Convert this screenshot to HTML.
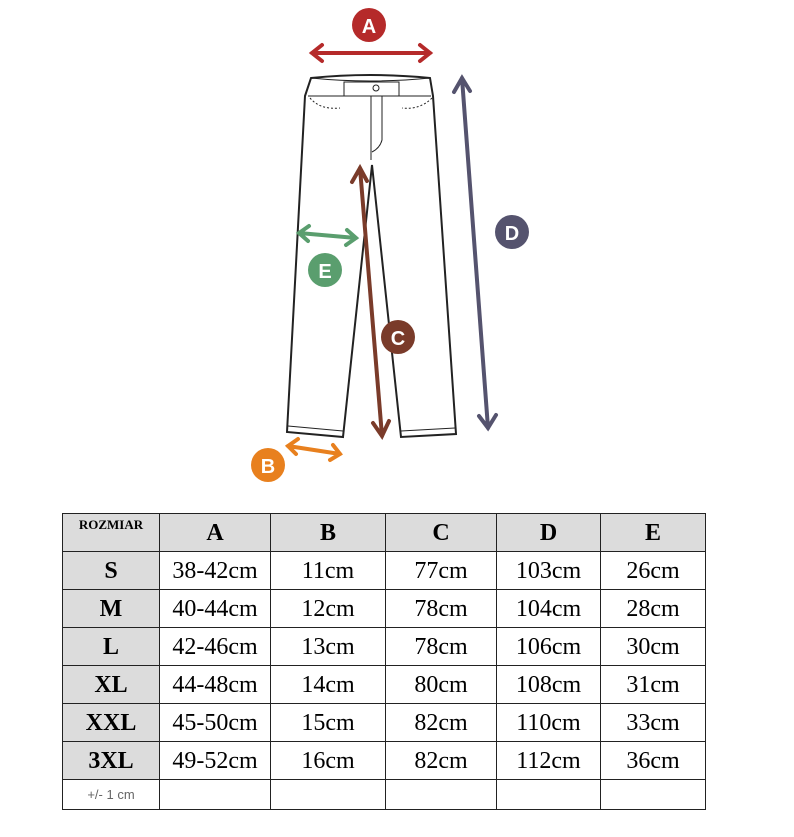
<!DOCTYPE html>
<html><head><style>
body{margin:0;background:#fff;width:794px;height:837px;position:relative;overflow:hidden;font-family:"Liberation Serif",serif}
table{position:absolute;left:62px;top:513px;border-collapse:collapse;table-layout:fixed}
td{border:1.5px solid #222;text-align:center;font-size:24px;padding:0;height:37px;line-height:1}
.g{background:#dcdcdc;font-weight:bold}
tr.last td{height:29px}
</style></head><body>
<svg width="794" height="500" style="position:absolute;left:0;top:0" font-family="Liberation Sans,sans-serif">
<g fill="none" stroke="#222" stroke-width="2">
<path d="M311,78 Q370,72 430,78 L433,96 L456,434 L401,437 L372,165 L343,437 L287,432 L305,96 Z" fill="#fff"/>
<path d="M308,96 L431,96" stroke-width="1"/>
<path d="M311,78 Q370,84 430,78" stroke-width="1"/>
<rect x="344" y="82" width="55" height="14" stroke-width="1"/>
<path d="M371,96 L371,160 M382,96 L382,140 Q380,148 372,152" stroke-width="1"/>
<circle cx="376" cy="88" r="3" stroke-width="1"/>
<path d="M310,98 Q320,110 340,108 M432,98 Q420,110 402,108" stroke-width="1" stroke-dasharray="2,2"/>
<path d="M288,426 L343,431 M401,431 L455,428" stroke-width="1"/>
</g>
<g stroke-width="4" fill="none" stroke-linecap="round">
<g stroke="#b52a2a"><path d="M312,53 L430,53 M322,45 L312,53 L322,61 M420,45 L430,53 L420,61"/></g>
<g stroke="#55536e"><path d="M462,78 L488,428 M454,92 L462,78 L470,91 M479,416 L488,428 L496,415"/></g>
<g stroke="#7a3b2a"><path d="M360,168 L382,436 M352,182 L360,168 L367,181 M373,423 L382,436 L389,421"/></g>
<g stroke="#5a9e6e"><path d="M299,233 L356,238 M309,226 L299,233 L308,241 M347,230 L356,238 L346,245"/></g>
<g stroke="#e8801e"><path d="M288,446 L340,454 M298,439 L288,446 L296,454 M333,445 L340,454 L330,460"/></g>
</g>
<g font-weight="bold" font-size="20" fill="#fff" text-anchor="middle">
<circle cx="369" cy="25" r="17" fill="#b52a2a"/><text x="369" y="33">A</text>
<circle cx="512" cy="232" r="17" fill="#55536e"/><text x="512" y="240">D</text>
<circle cx="398" cy="337" r="17" fill="#7a3b2a"/><text x="398" y="345">C</text>
<circle cx="325" cy="270" r="17" fill="#5a9e6e"/><text x="325" y="278">E</text>
<circle cx="268" cy="465" r="17" fill="#e8801e"/><text x="268" y="473">B</text>
</g>
</svg>
<table>
<colgroup><col style="width:97px"><col style="width:111px"><col style="width:115px"><col style="width:111px"><col style="width:104px"><col style="width:105px"></colgroup>
<tr><td class="g" style="font-size:13px;vertical-align:top;padding-top:4px;height:33px">ROZMIAR</td><td class="g">A</td><td class="g">B</td><td class="g">C</td><td class="g">D</td><td class="g">E</td></tr>
<tr><td class="g">S</td><td>38-42cm</td><td>11cm</td><td>77cm</td><td>103cm</td><td>26cm</td></tr>
<tr><td class="g">M</td><td>40-44cm</td><td>12cm</td><td>78cm</td><td>104cm</td><td>28cm</td></tr>
<tr><td class="g">L</td><td>42-46cm</td><td>13cm</td><td>78cm</td><td>106cm</td><td>30cm</td></tr>
<tr><td class="g">XL</td><td>44-48cm</td><td>14cm</td><td>80cm</td><td>108cm</td><td>31cm</td></tr>
<tr><td class="g">XXL</td><td>45-50cm</td><td>15cm</td><td>82cm</td><td>110cm</td><td>33cm</td></tr>
<tr><td class="g">3XL</td><td>49-52cm</td><td>16cm</td><td>82cm</td><td>112cm</td><td>36cm</td></tr>
<tr class="last"><td style="font-size:13px;font-family:'Liberation Sans',sans-serif;color:#666">+/- 1 cm</td><td></td><td></td><td></td><td></td><td></td></tr>
</table>
</body></html>
